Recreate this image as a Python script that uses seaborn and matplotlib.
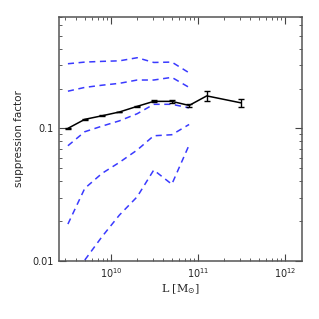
import numpy as np
import pandas as pd
import matplotlib
matplotlib.use("Agg")
import matplotlib.pyplot as plt
import seaborn as sns

# halo mass / luminosity bins
L_bins = [3.2e9, 5.0e9, 7.9e9, 1.25e10, 2.0e10, 3.1e10, 5.0e10, 7.9e10, 1.26e11, 3.1e11]
supp = [0.100, 0.117, 0.1245, 0.133, 0.1467, 0.160, 0.160, 0.149, 0.176, 0.156]
supp_err = [0.001, 0.001, 0.001, 0.001, 0.002, 0.003, 0.004, 0.005, 0.014, 0.011]

# dashed model curves (only first 8 bins)
L_model = L_bins[:8]
curve1 = [0.308, 0.317, 0.321, 0.324, 0.342, 0.315, 0.317, 0.263]
curve2 = [0.191, 0.204, 0.212, 0.219, 0.232, 0.232, 0.243, 0.204]
curve3 = [0.0739, 0.0943, 0.104, 0.114, 0.129, 0.152, 0.152, 0.143]
curve4 = [0.0189, 0.0352, 0.0457, 0.0553, 0.0686, 0.0879, 0.0895, 0.107]
curve5 = [np.nan, 0.0101, 0.0152, 0.0221, 0.0304, 0.0484, 0.0378, 0.0748]

sns.set_style("ticks")

fig = plt.figure(figsize=(3.19, 3.19), dpi=100)
ax = fig.add_axes([0.186, 0.183, 0.761, 0.765])

blue = "#3a3aff"
for c in [curve1, curve2, curve3, curve4, curve5]:
    d = pd.DataFrame({"L": L_model, "s": c}).dropna()
    sns.lineplot(data=d, x="L", y="s", ax=ax, color=blue, lw=1.1,
                 linestyle=(0, (4, 3)), estimator=None)

df = pd.DataFrame({"L": L_bins, "s": supp, "err": supp_err})
sns.lineplot(data=df, x="L", y="s", ax=ax, color="black", lw=1.1, estimator=None)
ax.errorbar(df["L"], df["s"], yerr=df["err"], fmt="none", ecolor="black",
            elinewidth=1.0, capsize=2, capthick=1.0)

ax.set_xscale("log")
ax.set_yscale("log")
ax.set_xlim(2.55e9, 1.57e12)
ax.set_ylim(0.01, 0.7)

ax.set_xticks([1e10, 1e11, 1e12])
ax.set_xticklabels(["$10^{10}$", "$10^{11}$", "$10^{12}$"], fontsize=7, family="DejaVu Serif")
ax.set_yticks([0.01, 0.1])
ax.set_yticklabels(["0.01", "0.1"], fontsize=7)

ax.tick_params(which="both", direction="in", top=True, right=True, color="#444444")
ax.tick_params(which="major", length=5, width=0.8, pad=4)
ax.tick_params(which="minor", length=2.5, width=0.6)
for s in ax.spines.values():
    s.set_linewidth(1.1)
    s.set_color("#555555")

ax.set_xlabel(r"L [M$_{\odot}$]", fontsize=8, family="DejaVu Serif", labelpad=2)
ax.set_ylabel("suppression factor", fontsize=7.5, labelpad=6)

plt.savefig("out.png", dpi=100)
plt.close()
